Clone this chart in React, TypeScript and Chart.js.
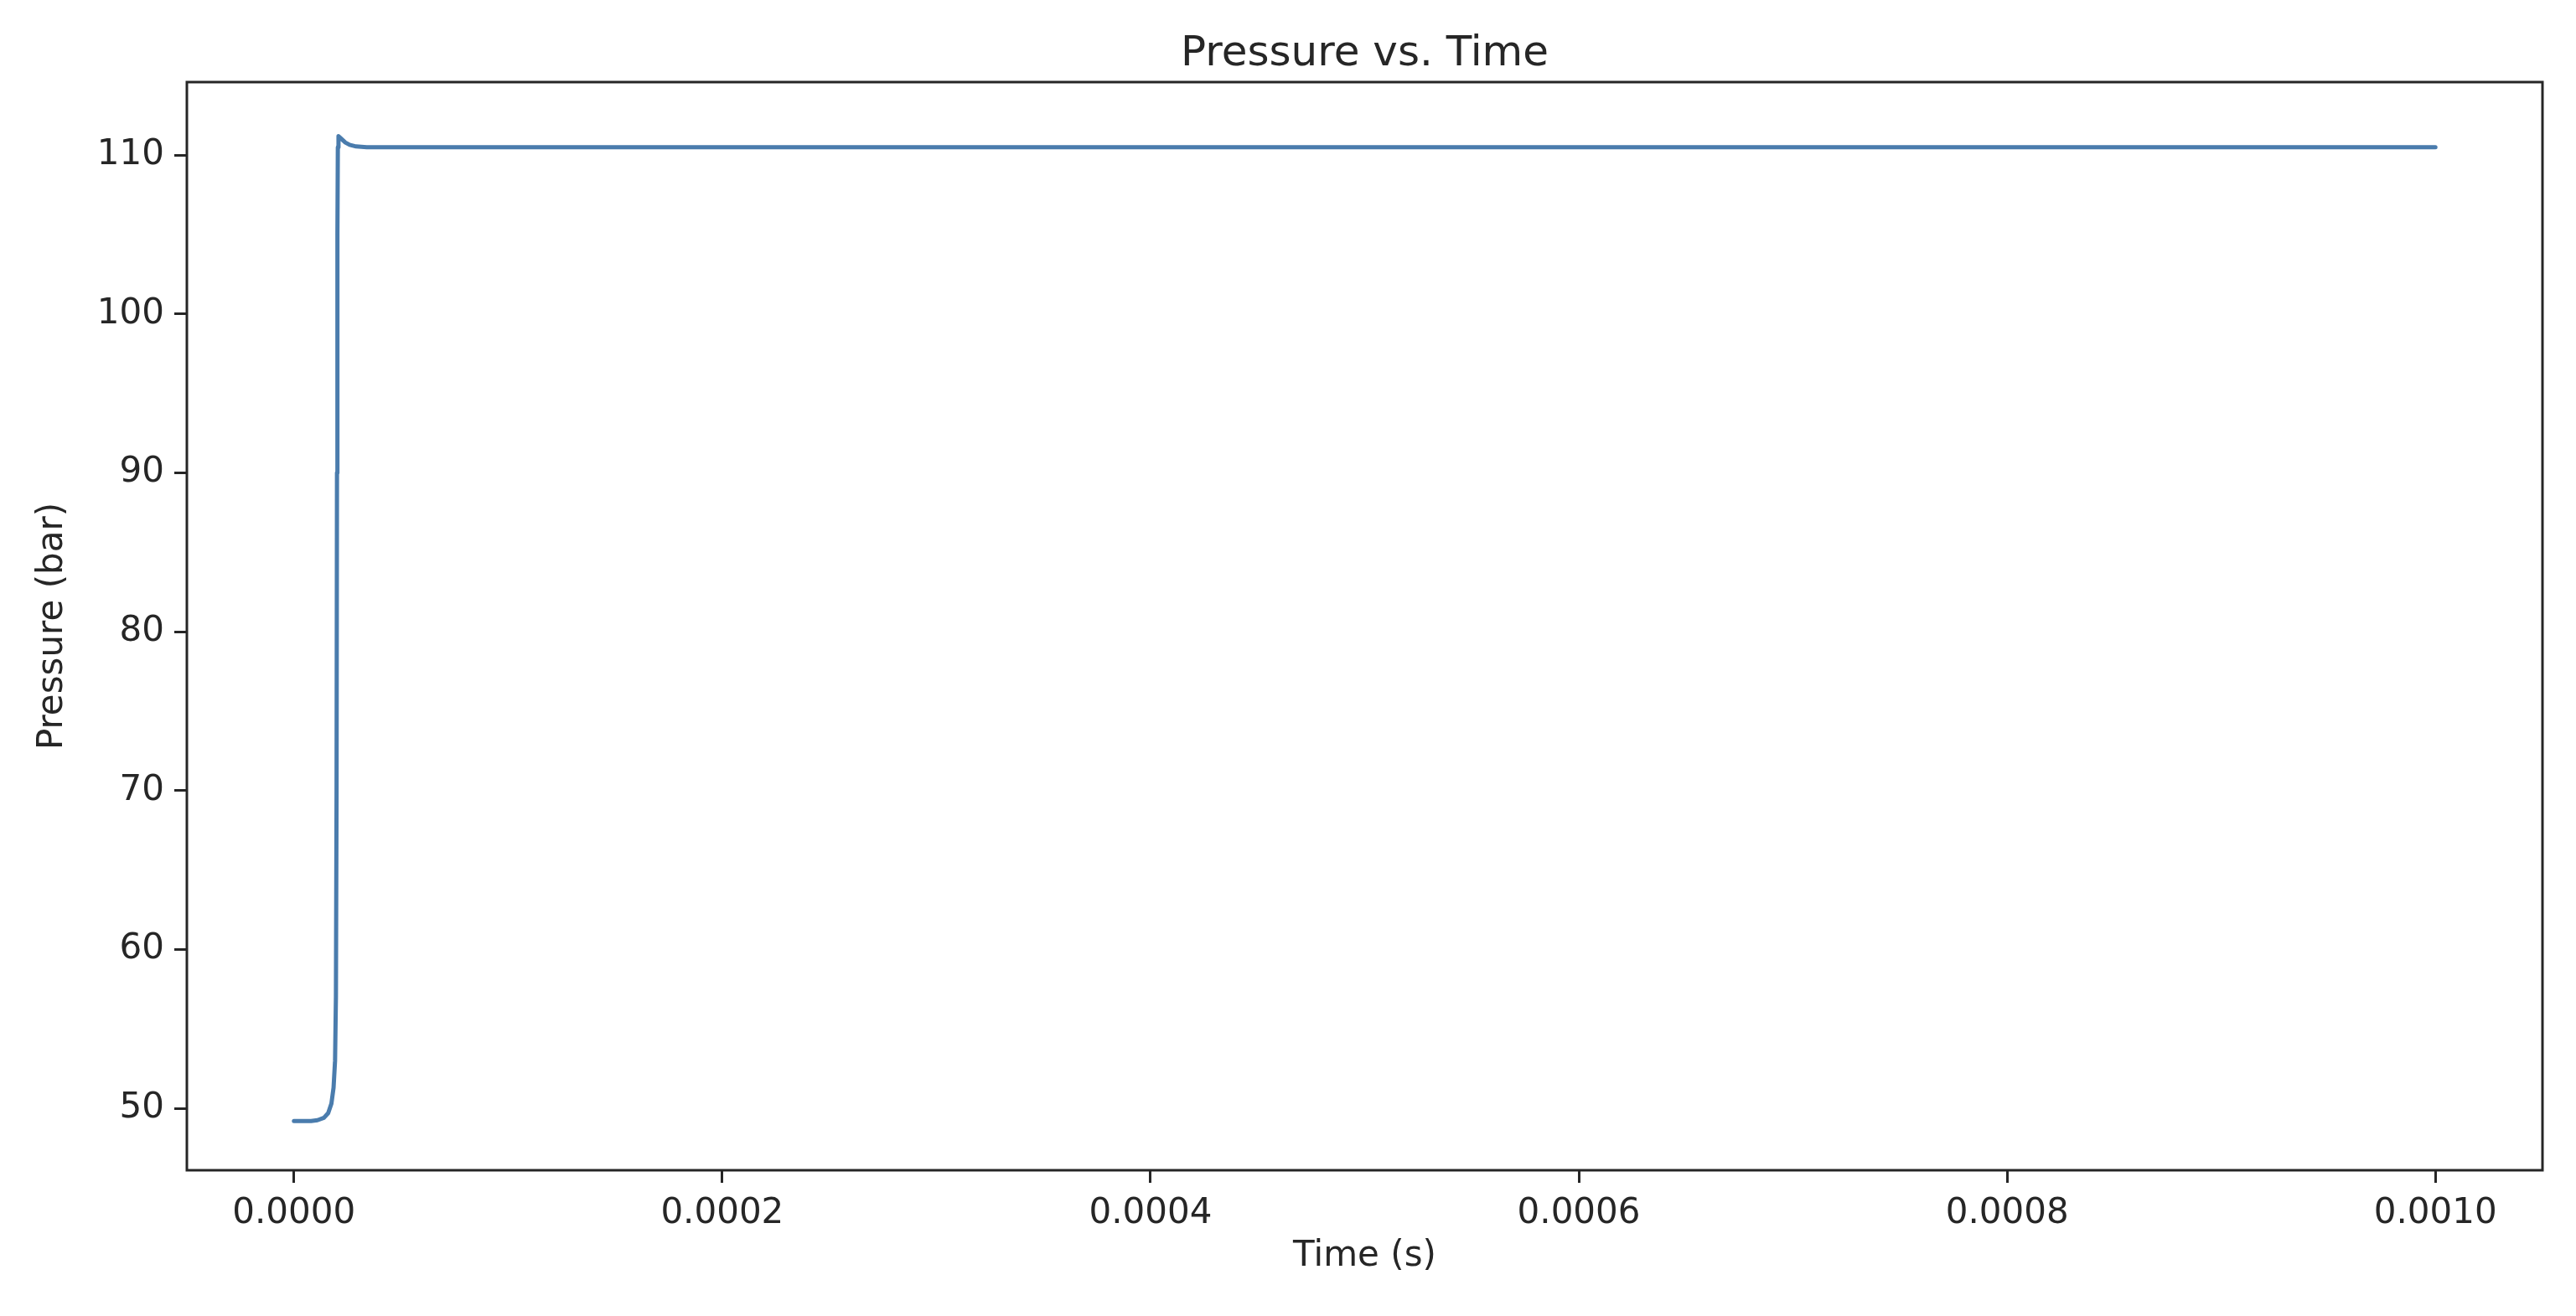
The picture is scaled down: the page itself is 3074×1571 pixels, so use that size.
import React, { useEffect, useRef } from "react";
import { Chart, registerables } from "chart.js";

Chart.register(...registerables);

// Time in seconds
const timeValues: number[] = [
  0, 0.000004, 0.000008, 0.000011, 0.000014, 0.000016, 0.0000175, 0.0000185,
  0.0000192, 0.0000196, 0.0000199, 0.0000201, 0.0000203, 0.0000205, 0.0000208,
  0.000022, 0.000024, 0.000026, 0.000029, 0.000034, 0.00005, 0.0001, 0.0002,
  0.0003, 0.0004, 0.0005, 0.0006, 0.0007, 0.0008, 0.0009, 0.001,
];
// Pressure in bar
const pressureValues: number[] = [
  49.2, 49.2, 49.2, 49.25, 49.4, 49.7, 50.3, 51.3,
  53.0, 57.0, 70.0, 90.0, 105.0, 110.5, 111.2,
  111.05, 110.8, 110.65, 110.55, 110.5, 110.5, 110.5, 110.5,
  110.5, 110.5, 110.5, 110.5, 110.5, 110.5, 110.5, 110.5,
];

const xTickValues: number[] = [0, 0.0002, 0.0004, 0.0006, 0.0008, 0.001];
const yTickValues: number[] = [50, 60, 70, 80, 90, 100, 110];

const chartTitle = "Pressure vs. Time";
const xAxisTitle = "Time (s)";
const yAxisTitle = "Pressure (bar)";

const FONT = "'DejaVu Sans', sans-serif";
const TEXT = "#262626";

const framePlugin = {
  id: "frame",
  afterDraw(chart: any) {
    const { ctx, chartArea } = chart;
    ctx.save();
    ctx.strokeStyle = "#262626";
    ctx.lineWidth = 3;
    ctx.strokeRect(
      chartArea.left,
      chartArea.top,
      chartArea.right - chartArea.left,
      chartArea.bottom - chartArea.top
    );
    ctx.restore();
  },
};

export default function App() {
  const canvasRef = useRef<HTMLCanvasElement | null>(null);

  useEffect(() => {
    if (!canvasRef.current) return;
    const points = timeValues.map((t, i) => ({ x: t, y: pressureValues[i] }));
    const chart = new Chart(canvasRef.current, {
      type: "scatter",
      data: {
        datasets: [
          {
            data: points,
            showLine: true,
            borderColor: "#4a7cad",
            backgroundColor: "#4a7cad",
            borderWidth: 5,
            borderJoinStyle: "round",
            borderCapStyle: "round",
            pointRadius: 0,
            tension: 0,
          },
        ],
      },
      options: {
        animation: false,
        responsive: false,
        devicePixelRatio: 1,
        layout: { padding: { top: 0, right: 40, bottom: 0, left: 0 } },
        plugins: {
          legend: { display: false },
          tooltip: { enabled: false },
          title: {
            display: true,
            fullSize: false,
            text: chartTitle,
            color: TEXT,
            font: { family: FONT, size: 50, weight: "normal", lineHeight: 1.2 },
            padding: { top: 35, bottom: 3 },
          },
        },
        scales: {
          x: {
            type: "linear",
            min: -0.00005,
            max: 0.00105,
            afterBuildTicks: (scale: any) => {
              scale.ticks = xTickValues.map((v) => ({ value: v }));
            },
            afterFit: (scale: any) => {
              scale.height = 174;
            },
            border: { display: false },
            grid: {
              display: true,
              drawOnChartArea: false,
              drawTicks: true,
              tickLength: 15,
              color: "#262626",
              lineWidth: 3,
            },
            ticks: {
              color: TEXT,
              font: { family: FONT, size: 42 },
              padding: 12,
              maxRotation: 0,
              autoSkip: false,
              callback: (v: any) => Number(v).toFixed(4),
            },
            title: {
              display: true,
              text: xAxisTitle,
              color: TEXT,
              font: { family: FONT, size: 42, lineHeight: 1.2 },
              padding: { top: 0, bottom: 46 },
            },
          },
          y: {
            type: "linear",
            min: 46.1,
            max: 114.6,
            afterBuildTicks: (scale: any) => {
              scale.ticks = yTickValues.map((v) => ({ value: v }));
            },
            afterFit: (scale: any) => {
              scale.width = 223;
            },
            border: { display: false },
            grid: {
              display: true,
              drawOnChartArea: false,
              drawTicks: true,
              tickLength: 15,
              color: "#262626",
              lineWidth: 3,
            },
            ticks: {
              color: TEXT,
              font: { family: FONT, size: 42 },
              padding: 12,
              autoSkip: false,
              callback: (v: any) => String(v),
            },
            title: {
              display: true,
              text: yAxisTitle,
              color: TEXT,
              font: { family: FONT, size: 42, lineHeight: 1.2 },
              padding: { top: 38, bottom: 0 },
            },
          },
        },
      },
      plugins: [framePlugin],
    });
    return () => chart.destroy();
  }, []);

  return (
    <div style={{ position: "absolute", left: 0, top: 0, width: 3074, height: 1571, background: "#fff" }}>
      <canvas ref={canvasRef} width={3074} height={1571} />
    </div>
  );
}
